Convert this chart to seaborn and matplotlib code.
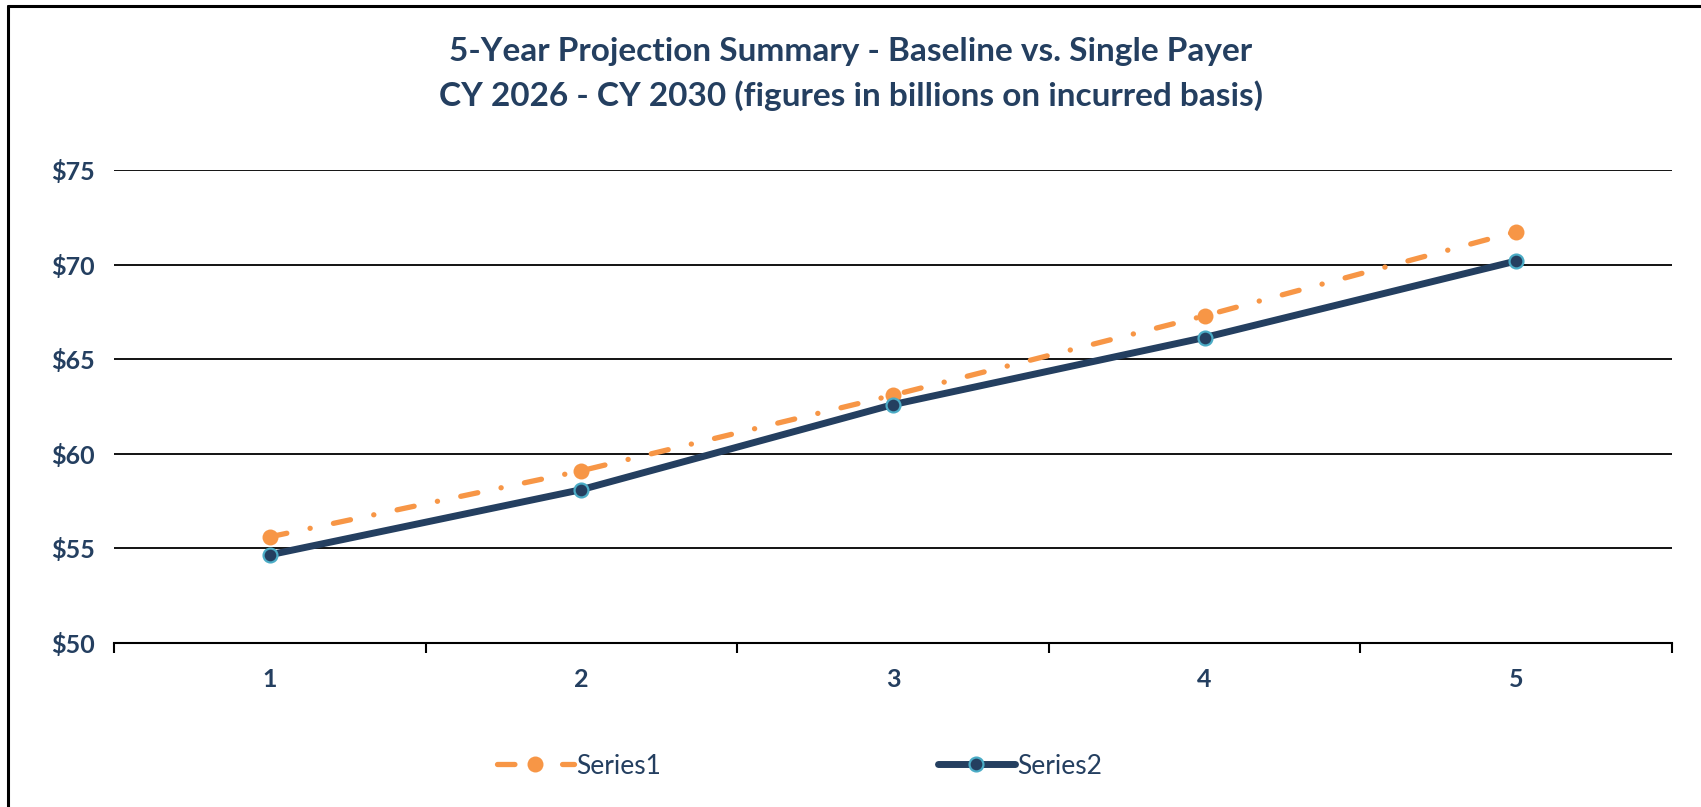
import matplotlib
matplotlib.use('Agg')
import matplotlib.pyplot as plt
import numpy as np
import pandas as pd
import seaborn as sns
from matplotlib.lines import Line2D
from matplotlib.ticker import FixedLocator

# data
years = [1, 2, 3, 4, 5]
series1 = [55.6, 59.1, 63.1, 67.3, 71.75]
series2 = [54.65, 58.1, 62.6, 66.15, 70.2]
y_ticks = [50, 55, 60, 65, 70, 75]
title_lines = ["5-Year Projection Summary - Baseline vs. Single Payer",
               "CY 2026 - CY 2030 (figures in billions on incurred basis)"]

navy = '#243F60'
orange = '#F79646'
cyan = '#4BACC6'

sns.set_theme(style='white')
plt.rcParams['font.family'] = ['Lato', 'DejaVu Sans']

df = pd.DataFrame({'Year': years * 2,
                   'Value': series1 + series2,
                   'Series': ['Series1'] * 5 + ['Series2'] * 5})

fig = plt.figure(figsize=(17.01, 8.07), dpi=100)
ax = fig.add_axes([0.0670, 0.2036, 0.9160, 0.5854])

sns.lineplot(data=df[df.Series == 'Series1'], x='Year', y='Value', ax=ax, color=orange,
             linewidth=3.8, marker='o', markersize=11.5, markeredgewidth=0, label='Series1',
             linestyle=(0, (3.3, 4.5, 0.03, 4.5)), dash_capstyle='round', zorder=3)
sns.lineplot(data=df[df.Series == 'Series2'], x='Year', y='Value', ax=ax, color=navy,
             linewidth=5.0, marker='o', markersize=10, markerfacecolor=navy,
             markeredgecolor=cyan, markeredgewidth=1.6, label='Series2',
             solid_capstyle='round', zorder=4)

ax.set_xlim(0.5, 5.5)
ax.set_ylim(50, 75)
ax.set_yticks(y_ticks)
ax.set_yticklabels([f'${v}' for v in y_ticks])
ax.set_xticks(years)
ax.xaxis.set_minor_locator(FixedLocator(np.arange(0.5, 5.6, 1.0)))
ax.tick_params(axis='x', which='major', length=0, pad=18, labelsize=18, labelcolor=navy)
ax.tick_params(axis='x', which='minor', length=7, width=1.5, color='black', direction='out', bottom=True)
ax.tick_params(axis='y', length=0, pad=14, labelsize=18, labelcolor=navy)
for lab in ax.get_xticklabels() + ax.get_yticklabels():
    lab.set_fontweight('bold')

ax.grid(False)
for v in y_ticks[1:]:
    ax.axhline(v, color='black', linewidth=1.3, zorder=1)
for s in ['top', 'right', 'left']:
    ax.spines[s].set_visible(False)
ax.spines['bottom'].set_color('black')
ax.spines['bottom'].set_linewidth(1.5)
ax.set_xlabel('')
ax.set_ylabel('')

fig.text(0.5, 1 - 51 / 807, title_lines[0], ha='center', va='center',
         fontsize=24, fontweight='bold', color=navy)
fig.text(0.5, 1 - 96 / 807, title_lines[1], ha='center', va='center',
         fontsize=24, fontweight='bold', color=navy)

leg = ax.legend(loc='center left', ncol=2, frameon=False,
                fontsize=19, handlelength=2.9, handletextpad=0.1, columnspacing=10.5,
                labelcolor=navy, borderaxespad=0, borderpad=0)
leg.set_bbox_to_anchor((497 / 1701, 1 - 766 / 807), transform=fig.transFigure)

# chart frame (only left and top edges visible in the reference)
fig.add_artist(Line2D([7.5 / 1701, 7.5 / 1701], [0, 1 - 6 / 807], color='black', linewidth=2.2))
fig.add_artist(Line2D([7.5 / 1701, 1], [1 - 6 / 807, 1 - 6 / 807], color='black', linewidth=2.2))

fig.savefig('out.png', dpi=100)
plt.close(fig)
